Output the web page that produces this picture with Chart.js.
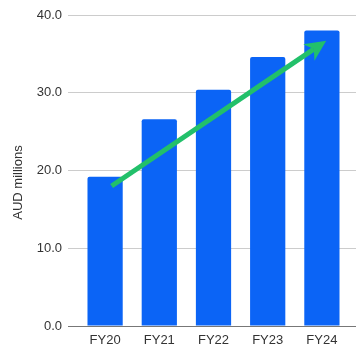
<!DOCTYPE html>
<html>
<head>
<meta charset="utf-8">
<script src="https://cdn.jsdelivr.net/npm/chart.js@4"></script>
<style>
  html, body { margin: 0; padding: 0; background: #fff; }
  #wrap { width: 356px; height: 346px; position: relative; }
</style>
</head>
<body>
<div id="wrap"><canvas id="chart"></canvas></div>
<script>
// values
const years = ['FY20', 'FY21', 'FY22', 'FY23', 'FY24']
const revenue = [19.2, 26.6, 30.4, 34.6, 38.0]
const yTicks = [0, 10, 20, 30, 40]
const yTitle = 'AUD millions'

// trend arrow, in data units: [category index, value]
const arrowFrom = [0.12, 18.0]
const arrowTo = [4.08, 36.7]

const gridColor = (ctx) => ctx.tick && ctx.tick.value === 0 ? '#777777' : '#cccccc'

// draws the green trend arrow through the chart's own scales
const trendArrow = {
  id: 'trendArrow',
  afterDatasetsDraw(chart) {
    const { ctx, scales: { x, y } } = chart
    const x1 = x.getPixelForValue(arrowFrom[0]), y1 = y.getPixelForValue(arrowFrom[1])
    const x2 = x.getPixelForValue(arrowTo[0]), y2 = y.getPixelForValue(arrowTo[1])
    const ang = Math.atan2(y2 - y1, x2 - x1)
    const head = 21, half = 10
    const bx = x2 - head * Math.cos(ang), by = y2 - head * Math.sin(ang)
    const nx = x2 - (head - 6) * Math.cos(ang), ny = y2 - (head - 6) * Math.sin(ang)
    ctx.save()
    ctx.strokeStyle = '#22c06a'
    ctx.fillStyle = '#22c06a'
    ctx.lineWidth = 5
    ctx.beginPath()
    ctx.moveTo(x1, y1)
    ctx.lineTo(nx, ny)
    ctx.stroke()
    // arrow head with a little notch like the reference
    ctx.beginPath()
    ctx.moveTo(x2, y2)
    ctx.lineTo(bx + half * Math.sin(ang), by - half * Math.cos(ang))
    ctx.lineTo(nx, ny)
    ctx.lineTo(bx - half * Math.sin(ang), by + half * Math.cos(ang))
    ctx.closePath()
    ctx.fill()
    ctx.restore()
  }
}

// axis title sits a bit below the middle of the axis in the reference
const axisTitle = {
  id: 'axisTitle',
  afterDraw(chart) {
    const { ctx, chartArea } = chart
    const cy = (chartArea.top + chartArea.bottom) / 2 + 12
    ctx.save()
    ctx.translate(18, cy)
    ctx.rotate(-Math.PI / 2)
    ctx.font = '13px Arial, "Liberation Sans", sans-serif'
    ctx.fillStyle = '#333333'
    ctx.textAlign = 'center'
    ctx.textBaseline = 'middle'
    ctx.fillText(yTitle, 0, 0)
    ctx.restore()
  }
}

Chart.defaults.font.family = 'Arial, "Liberation Sans", sans-serif'
Chart.defaults.font.size = 13
Chart.defaults.color = '#333333'

new Chart(document.getElementById('chart'), {
  type: 'bar',
  data: {
    labels: years,
    datasets: [{
      data: revenue,
      backgroundColor: '#0b64f6',
      borderRadius: 2,
      borderSkipped: 'bottom',
      categoryPercentage: 0.65,
      barPercentage: 1.0
    }]
  },
  options: {
    responsive: true,
    maintainAspectRatio: false,
    animation: false,
    layout: { padding: { top: 15, right: 0, bottom: 0, left: 0 } },
    plugins: {
      legend: { display: false },
      tooltip: { enabled: false }
    },
    scales: {
      x: {
        grid: { display: false, drawTicks: false },
        border: { display: false },
        afterFit: (scale) => { scale.height = 20 },
        ticks: { padding: 7, color: '#333333' }
      },
      y: {
        min: 0,
        max: 40,
        afterBuildTicks: (scale) => { scale.ticks = yTicks.map(v => ({ value: v })) },
        afterFit: (scale) => { scale.width = 78 },
        grid: { color: gridColor, tickColor: gridColor, tickLength: 10 },
        border: { display: false },
        ticks: { padding: 6, callback: (v) => v.toFixed(1) }
      },
      y2: {
        position: 'right',
        min: 0,
        max: 40,
        afterBuildTicks: (scale) => { scale.ticks = yTicks.map(v => ({ value: v })) },
        grid: { drawOnChartArea: false, color: gridColor, tickColor: gridColor, tickLength: 7 },
        border: { display: false },
        ticks: { display: false }
      }
    }
  },
  plugins: [trendArrow, axisTitle]
})
</script>
</body>
</html>
